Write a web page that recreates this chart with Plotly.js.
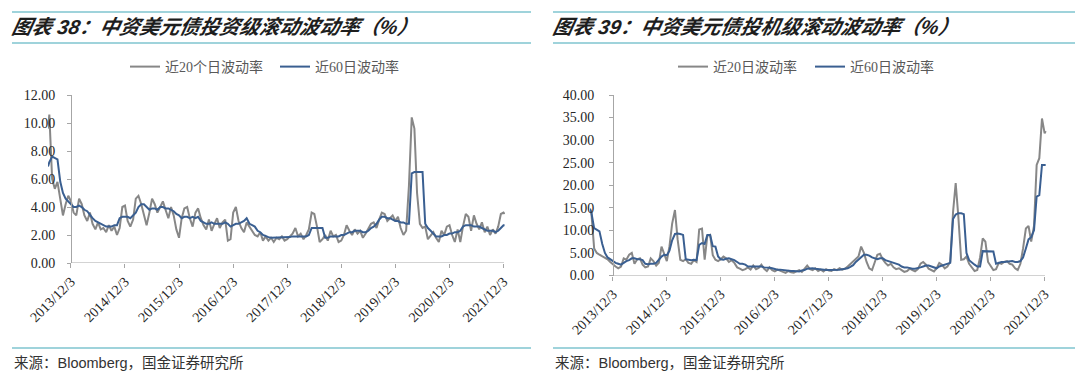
<!DOCTYPE html>
<html><head><meta charset="utf-8">
<script src="https://cdn.plot.ly/plotly-3.0.1.min.js"></script>
<style>html,body{margin:0;padding:0;background:#fff;}#chart{width:1080px;height:386px;}</style>
</head><body><div id="chart"></div>
<script>
// shared date grid
const dates = [
 "2013-07-01","2013-07-10","2013-07-29","2013-08-16","2013-09-03","2013-09-22","2013-10-10","2013-10-28","2013-11-15","2013-12-03","2013-12-21",
 "2014-01-08","2014-01-27","2014-02-14","2014-03-04","2014-03-23","2014-04-10","2014-04-28","2014-05-17","2014-06-04","2014-06-22","2014-07-10","2014-07-29","2014-08-16","2014-09-03","2014-09-22","2014-10-10","2014-10-28","2014-11-15","2014-12-03","2014-12-21",
 "2015-01-08","2015-01-27","2015-02-14","2015-03-04","2015-03-23","2015-04-10","2015-04-28","2015-05-17","2015-06-04","2015-06-22","2015-07-10","2015-07-29","2015-08-16","2015-09-03","2015-09-22","2015-10-10","2015-10-28","2015-11-15","2015-12-03","2015-12-21",
 "2016-01-08","2016-01-27","2016-02-14","2016-03-04","2016-03-23","2016-04-10","2016-04-28","2016-05-17","2016-06-04","2016-06-22","2016-07-10","2016-07-29","2016-08-16","2016-09-03","2016-09-22","2016-10-10","2016-10-28","2016-11-15","2016-12-03","2016-12-21",
 "2017-01-08","2017-01-27","2017-02-14","2017-03-04","2017-03-23","2017-04-10","2017-04-28","2017-05-17","2017-06-04","2017-06-22","2017-07-10","2017-07-29","2017-08-16","2017-09-03","2017-09-22","2017-10-10","2017-10-28","2017-11-15","2017-12-03","2017-12-21",
 "2018-01-08","2018-01-27","2018-02-14","2018-03-04","2018-03-23","2018-04-10","2018-04-28","2018-05-17","2018-06-04","2018-06-22","2018-07-10","2018-07-29","2018-08-16","2018-09-03","2018-09-22","2018-10-10","2018-10-28","2018-11-15","2018-12-03","2018-12-21",
 "2019-01-08","2019-01-27","2019-02-14","2019-03-04","2019-03-23","2019-04-10","2019-04-28","2019-05-17","2019-06-04","2019-06-22","2019-07-10","2019-07-29","2019-08-16","2019-09-03","2019-09-22","2019-10-10","2019-10-28","2019-11-15","2019-12-03","2019-12-21",
 "2020-01-08","2020-01-27","2020-02-14","2020-03-04","2020-03-23","2020-04-10","2020-04-28","2020-05-17","2020-06-04","2020-06-22","2020-07-10","2020-07-29","2020-08-16","2020-09-03","2020-09-22","2020-10-10","2020-10-28","2020-11-15","2020-12-03","2020-12-21",
 "2021-01-08","2021-01-27","2021-02-14","2021-03-04","2021-03-23","2021-04-10","2021-04-28","2021-05-17","2021-06-04","2021-06-22","2021-07-10","2021-07-29","2021-08-16","2021-09-03","2021-09-22","2021-10-10","2021-10-28","2021-11-15","2021-12-03","2021-12-10"
];
// Chart 38: investment grade
const igVol20 = [
 9.6,10.6,6.0,5.3,5.8,4.4,3.4,4.2,4.8,4.4,3.6,
 3.4,4.6,4.2,3.4,3.0,3.6,2.8,2.4,2.9,2.4,2.5,2.2,2.7,2.3,2.6,2.0,2.5,4.0,4.1,3.0,
 2.6,3.1,4.6,4.8,4.2,3.5,2.7,3.6,4.6,4.2,3.6,4.0,4.4,3.8,3.2,4.0,3.4,2.4,1.8,3.2,
 3.9,4.0,3.2,2.6,3.6,3.9,3.2,2.7,2.4,3.1,2.3,2.8,3.2,2.5,2.9,3.1,1.6,1.7,3.6,4.0,
 3.0,2.5,2.2,2.9,2.6,2.3,2.0,1.9,2.2,1.6,1.9,1.6,1.8,1.5,1.8,1.7,1.9,1.6,1.7,1.9,
 2.1,2.5,1.9,2.1,1.7,2.0,2.4,3.6,3.5,2.6,1.5,1.7,2.0,1.6,2.3,1.9,2.0,1.5,1.6,2.0,
 2.7,2.3,2.0,2.4,2.1,2.3,1.8,2.1,2.5,2.8,2.9,2.5,3.1,3.6,3.5,3.0,3.2,3.4,3.0,3.3,
 2.5,2.0,2.3,5.5,10.4,9.6,5.0,2.8,2.5,2.6,1.7,2.0,2.2,1.8,1.5,2.3,2.0,2.6,2.7,2.0,
 1.5,2.4,1.5,2.6,3.5,3.3,2.3,3.4,2.8,2.4,2.9,2.2,2.6,2.0,2.4,2.1,2.6,3.5,3.6,3.5
];
const igVol60 = [
 6.9,7.2,7.6,7.5,7.4,5.8,5.0,4.6,4.4,4.2,4.0,
 4.0,4.1,4.0,3.8,3.7,3.4,3.2,3.0,2.9,2.8,2.7,2.6,2.6,2.6,2.7,2.7,3.2,3.3,3.3,3.3,
 3.2,3.4,3.6,4.0,4.2,4.2,4.0,3.8,3.9,3.9,3.8,4.0,4.0,3.9,3.9,3.8,3.7,3.5,3.4,3.2,
 3.3,3.3,3.2,3.3,3.2,3.3,3.0,2.9,2.8,2.8,2.9,2.8,2.8,2.8,2.8,2.9,2.8,2.6,2.7,2.8,
 2.8,2.9,3.0,3.2,2.8,2.7,2.6,2.3,2.2,2.0,1.9,1.85,1.8,1.8,1.8,1.8,1.8,1.8,1.8,1.85,
 1.9,1.9,1.9,1.95,1.95,1.9,2.0,2.5,2.5,2.5,2.5,2.5,1.8,1.8,1.9,1.9,1.9,1.9,2.0,2.0,
 2.1,2.2,2.2,2.3,2.3,2.3,2.2,2.2,2.3,2.5,2.6,2.8,3.1,3.3,3.3,3.2,3.2,3.1,3.0,3.0,
 2.9,2.9,2.8,2.8,6.4,6.5,6.5,6.5,6.5,2.8,2.5,2.3,2.1,1.9,1.9,1.9,2.0,2.0,2.1,2.1,
 2.2,2.2,2.3,2.6,2.7,2.7,2.7,2.6,2.6,2.6,2.5,2.4,2.3,2.3,2.3,2.2,2.3,2.5,2.7,2.7
];
// Chart 39: high yield
const hyVol20 = [
 14.5,14.0,6.0,5.0,4.6,4.3,4.0,3.6,3.0,2.4,2.0,
 1.6,2.0,3.8,3.5,4.6,5.0,2.6,3.6,3.8,2.4,1.8,2.0,3.8,3.2,2.2,2.8,6.4,5.0,3.2,6.5,
 11.5,14.5,8.0,3.5,3.2,3.6,2.8,2.6,3.4,3.0,10.2,10.4,3.5,8.8,9.0,4.5,3.5,3.2,3.6,4.2,
 3.8,3.0,3.4,2.8,1.8,1.5,1.2,1.4,1.8,1.3,2.2,1.4,1.7,2.4,1.5,1.0,1.8,1.2,0.9,1.3,
 1.0,0.8,0.6,1.0,0.7,0.6,0.9,1.2,0.8,1.6,2.2,1.4,1.2,1.6,1.0,1.3,0.9,1.4,1.1,1.0,
 1.4,1.2,1.6,1.3,1.5,2.0,2.6,3.0,3.6,4.2,6.4,5.0,3.0,1.6,1.2,2.8,4.6,4.8,3.6,2.8,
 2.2,2.6,1.8,1.4,1.6,1.2,0.8,1.0,1.5,1.2,0.9,1.4,2.6,3.0,2.4,1.5,1.2,0.9,1.6,2.8,
 2.4,1.6,2.0,3.0,14.0,20.5,13.0,3.5,3.6,4.2,2.6,1.8,1.0,1.2,4.0,8.2,7.5,3.0,2.2,1.2,
 1.4,2.8,2.6,3.0,3.2,2.6,2.4,1.6,1.2,2.6,6.0,10.4,11.0,7.5,11.0,24.5,26.0,34.8,31.5,32.0
];
const hyVol60 = [
 14.8,14.0,10.5,10.2,9.8,7.0,5.0,4.0,3.6,3.0,2.8,
 2.6,2.4,2.8,3.2,3.4,3.8,3.8,3.6,3.6,3.4,2.6,2.5,2.6,2.6,2.8,3.6,4.2,4.6,4.5,5.5,
 7.8,9.2,9.3,9.2,9.0,3.6,3.5,3.4,3.5,3.4,6.8,7.2,7.0,9.0,9.0,6.5,6.4,4.2,3.6,3.5,
 3.7,3.8,3.6,3.4,3.0,2.6,2.6,2.4,2.0,2.0,1.9,1.9,2.0,2.0,1.8,1.8,1.7,1.6,1.4,1.3,
 1.3,1.2,1.1,1.0,1.0,1.0,0.9,0.9,1.1,1.2,1.5,1.6,1.6,1.5,1.4,1.3,1.3,1.2,1.2,1.2,
 1.2,1.3,1.3,1.4,1.5,1.6,1.9,2.3,3.0,3.6,4.2,4.6,4.6,4.4,4.0,3.8,3.6,3.8,3.8,3.4,
 3.2,3.0,2.8,2.6,2.4,2.0,1.8,1.8,1.6,1.5,1.5,1.6,1.8,2.0,2.2,2.2,2.0,1.8,1.6,2.0,
 2.2,2.4,2.6,2.8,12.5,13.5,13.8,13.8,13.6,5.0,3.4,2.8,2.4,2.0,2.0,5.4,5.4,5.4,5.4,5.3,
 2.6,2.8,3.0,3.0,3.1,3.2,3.2,3.0,3.0,3.2,4.0,6.0,8.0,8.5,10.0,17.5,17.8,24.5,24.4,24.5
];
const tickDates = ["2013-12-03","2014-12-03","2015-12-03","2016-12-03","2017-12-03","2018-12-03","2019-12-03","2020-12-03","2021-12-03"];
const tickLabels = ["2013/12/3","2014/12/3","2015/12/3","2016/12/3","2017/12/3","2018/12/3","2019/12/3","2020/12/3","2021/12/3"];
const names1 = ["近20个日波动率","近60日波动率"];
const names2 = ["近20日波动率","近60日波动率"];
const titles = ["图表 38：中资美元债投资级滚动波动率（%）","图表 39：中资美元债投机级滚动波动率（%）"];
const sourceText = "来源：Bloomberg，国金证券研究所";

const W = 1080, H = 386;
const px = v => v / W, py = v => 1 - v / H;
const GRAY = "#878787", BLUE = "#3a5f91", AXIS = "#a6a6a6", RULE = "#7fc4cf";
const serif = "Liberation Serif, Times New Roman, serif";

const traces = [
 {x: dates, y: igVol20, name: names1[0], xaxis: "x", yaxis: "y", legend: "legend", type: "scatter", mode: "lines", line: {color: GRAY, width: 2}},
 {x: dates, y: igVol60, name: names1[1], xaxis: "x", yaxis: "y", legend: "legend", type: "scatter", mode: "lines", line: {color: BLUE, width: 2}},
 {x: dates, y: hyVol20, name: names2[0], xaxis: "x2", yaxis: "y2", legend: "legend2", type: "scatter", mode: "lines", line: {color: GRAY, width: 2}},
 {x: dates, y: hyVol60, name: names2[1], xaxis: "x2", yaxis: "y2", legend: "legend2", type: "scatter", mode: "lines", line: {color: BLUE, width: 2}}
];

const xCommon = {
 type: "date", tickmode: "array", tickvals: tickDates, ticktext: tickLabels, tickangle: -45,
 ticks: "outside", ticklen: 4, tickcolor: AXIS, showline: false, showgrid: false, zeroline: false,
 tickfont: {family: serif, size: 14, color: "#262626"}, fixedrange: true
};
const yCommon = {
 tickformat: ".2f", anchor: "free", showline: true, linecolor: AXIS, linewidth: 1,
 ticks: "outside", ticklen: 4, tickcolor: AXIS, showgrid: false, zeroline: false,
 tickfont: {family: serif, size: 14, color: "#262626"}, ticklabelstandoff: 9, fixedrange: true
};
const legFont = {family: "Liberation Serif, Noto Sans CJK SC", size: 14, color: "#595959"};

const layout = {
 width: W, height: H, margin: {l: 0, r: 0, t: 0, b: 0},
 paper_bgcolor: "#fff", plot_bgcolor: "rgba(0,0,0,0)",
 xaxis: Object.assign({}, xCommon, {domain: [px(48), px(505)], range: ["2013-07-01", "2021-12-13"], anchor: "y"}),
 yaxis: Object.assign({}, yCommon, {domain: [py(263), py(95)], range: [0, 12], dtick: 2, position: px(71)}),
 xaxis2: Object.assign({}, xCommon, {domain: [px(590), px(1047)], range: ["2013-07-01", "2021-12-19"], anchor: "y2"}),
 yaxis2: Object.assign({}, yCommon, {domain: [py(275.5), py(95)], range: [0, 40], dtick: 5, position: px(613), ticklabelstandoff: 12}),
 legend: {orientation: "h", x: px(125), xanchor: "left", y: py(67), yanchor: "middle", bgcolor: "rgba(0,0,0,0)",
   font: legFont, itemwidth: 30, entrywidth: 105},
 legend2: {orientation: "h", x: px(673), xanchor: "left", y: py(67), yanchor: "middle", bgcolor: "rgba(0,0,0,0)",
   font: legFont, itemwidth: 30, entrywidth: 92},
 shapes: [
  {type: "line", xref: "paper", yref: "y", x0: px(71), x1: px(504), y0: 0, y1: 0, line: {color: AXIS, width: 1}, layer: "below"},
  {type: "line", xref: "paper", yref: "y2", x0: px(613), x1: px(1045), y0: 0, y1: 0, line: {color: AXIS, width: 1}, layer: "below"},
  {type: "line", xref: "paper", yref: "paper", x0: px(12), x1: px(531), y0: py(12), y1: py(12), line: {color: RULE, width: 1.5}},
  {type: "line", xref: "paper", yref: "paper", x0: px(12), x1: px(531), y0: py(43), y1: py(43), line: {color: RULE, width: 1.5}},
  {type: "line", xref: "paper", yref: "paper", x0: px(12), x1: px(531), y0: py(348), y1: py(348), line: {color: RULE, width: 1.5}},
  {type: "line", xref: "paper", yref: "paper", x0: px(553), x1: px(1075), y0: py(12), y1: py(12), line: {color: RULE, width: 1.5}},
  {type: "line", xref: "paper", yref: "paper", x0: px(553), x1: px(1075), y0: py(43), y1: py(43), line: {color: RULE, width: 1.5}},
  {type: "line", xref: "paper", yref: "paper", x0: px(553), x1: px(1075), y0: py(348), y1: py(348), line: {color: RULE, width: 1.5}}
 ],
 annotations: [
  {text: "<b><i>" + titles[0] + "</i></b>", xref: "paper", yref: "paper", x: px(13), y: py(27), xanchor: "left", yanchor: "middle", showarrow: false,
   font: {family: "Liberation Sans, Noto Sans CJK SC", size: 20, color: "#1e1e1e"}},
  {text: "<b><i>" + titles[1] + "</i></b>", xref: "paper", yref: "paper", x: px(554), y: py(27), xanchor: "left", yanchor: "middle", showarrow: false,
   font: {family: "Liberation Sans, Noto Sans CJK SC", size: 20, color: "#1e1e1e"}},
  {text: sourceText, xref: "paper", yref: "paper", x: px(12), y: py(363), xanchor: "left", yanchor: "middle", showarrow: false,
   font: {family: "Liberation Sans, Noto Sans CJK SC", size: 14.5, color: "#333"}},
  {text: sourceText, xref: "paper", yref: "paper", x: px(553), y: py(363), xanchor: "left", yanchor: "middle", showarrow: false,
   font: {family: "Liberation Sans, Noto Sans CJK SC", size: 14.5, color: "#333"}}
 ]
};

Plotly.newPlot("chart", traces, layout, {staticPlot: true, displayModeBar: false}).then(function (gd) {
 // slant the two headline texts (the originals are set in an oblique face)
 gd.querySelectorAll(".annotation-text").forEach(function (t) {
  if (t.textContent.indexOf("图表") === 0) {
   t.setAttribute("transform", "skewX(-12)");
  }
 });
});
</script>
</body></html>
